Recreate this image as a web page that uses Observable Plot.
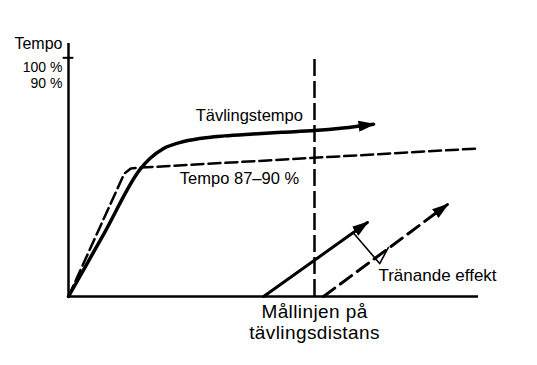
<!DOCTYPE html>
<html>
<head>
<meta charset="utf-8">
<script src="https://cdn.jsdelivr.net/npm/d3@7"></script>
<script src="https://cdn.jsdelivr.net/npm/@observablehq/plot@0.6"></script>
<style>
  html, body { margin: 0; padding: 0; background: #fff; }
  #chart svg { display: block; }
</style>
</head>
<body>
<div id="chart"></div>
<script>
// Schematic: x = distance (finish line at 60), y = tempo (%)
const raceX = [0, 8.8, 17.6, 20.0, 23.2, 27.3, 32, 38, 45, 52, 60, 67, 74.4];
const raceY = [0, 26.8, 53.6, 58.0, 62.0, 64.6, 66.2, 67.3, 68.1, 68.8, 69.5, 70.6, 72.2];

const steadyX = [0, 13.6, 15.2, 17.6, 59.8, 99.8];
const steadyY = [0, 51.5, 53.6, 54.0, 58.1, 62.0];

const trainSolidX = [47.6, 72.9];
const trainSolidY = [0, 31.0];
const trainDashX = [62.2, 92.4];
const trainDashY = [0, 38.5];

const effectX = [69.5, 75.9, 78.0];
const effectY = [26.6, 13.8, 20.5];

const finishX = 60;
const tickValue = 100;
const yTickLabels = ["100 %", "90 %"];
const yTickLabelPos = [96, 89.2];

const zip = (xs, ys) => xs.map((x, i) => ({x, y: ys[i]}));

function filledArrow(color) {
  const ns = "http://www.w3.org/2000/svg";
  const m = document.createElementNS(ns, "marker");
  m.setAttribute("viewBox", "-15 -5.5 17 11");
  m.setAttribute("markerWidth", 17);
  m.setAttribute("markerHeight", 11);
  m.setAttribute("markerUnits", "userSpaceOnUse");
  m.setAttribute("orient", "auto");
  m.setAttribute("refX", 0);
  m.setAttribute("refY", 0);
  const p = document.createElementNS(ns, "path");
  p.setAttribute("d", "M-15,-5.5L2,0L-15,5.5Z");
  p.setAttribute("fill", color);
  p.setAttribute("stroke", "none");
  m.appendChild(p);
  return m;
}

function build(marker) {
  return Plot.plot({
    width: 537,
    height: 365,
    marginLeft: 68,
    marginRight: 59,
    marginTop: 43,
    marginBottom: 69,
    x: {domain: [0, 100], axis: null},
    y: {domain: [0, 106], axis: null},
    style: {background: "#fff", fontFamily: "'Liberation Sans', Arial, sans-serif", color: "#000", overflow: "visible"},
    marks: [
      Plot.ruleX([0], {y1: 0, y2: 106, stroke: "#000", strokeWidth: 2.5}),
      Plot.ruleY([0], {x1: 0, x2: 100, stroke: "#000", strokeWidth: 2.5}),
      Plot.ruleY([tickValue], {x1: -1.3, x2: 1.3, stroke: "#000", strokeWidth: 2}),
      Plot.ruleX([finishX], {y1: 0, y2: 101, stroke: "#000", strokeWidth: 2.5, strokeDasharray: "17,5"}),
      Plot.line(zip(steadyX, steadyY), {x: "x", y: "y", stroke: "#000", strokeWidth: 2.5, strokeDasharray: "12,5", curve: "linear"}),
      Plot.line(zip(raceX, raceY), {x: "x", y: "y", stroke: "#000", strokeWidth: 3.5, curve: "monotone-x", markerEnd: marker}),
      Plot.line(zip(trainSolidX, trainSolidY), {x: "x", y: "y", stroke: "#000", strokeWidth: 3, markerEnd: marker}),
      Plot.line(zip(trainDashX, trainDashY), {x: "x", y: "y", stroke: "#000", strokeWidth: 3, strokeDasharray: "14,7", markerEnd: marker}),
      Plot.line(zip(effectX, effectY), {x: "x", y: "y", stroke: "#000", strokeWidth: 1.6}),
      Plot.text(["Tempo"], {x: 0, y: 106, dx: -6, text: d => d, textAnchor: "end", lineAnchor: "middle", fontSize: 16, fill: "#000"}),
      Plot.text(yTickLabels, {x: 0, y: (d, i) => yTickLabelPos[i], dx: -6, text: d => d, textAnchor: "end", lineAnchor: "middle", fontSize: 14, fill: "#000"}),
      Plot.text(["Tävlingstempo"], {x: 44.1, y: 75.8, text: d => d, lineAnchor: "middle", fontSize: 16.5, fill: "#000"}),
      Plot.text(["Tempo 87–90 %"], {x: 41.7, y: 49.4, text: d => d, lineAnchor: "middle", fontSize: 16.5, fill: "#000"}),
      Plot.text(["Tränande effekt"], {x: 90.0, y: 8.8, text: d => d, lineAnchor: "middle", fontSize: 17, fill: "#000"}),
      Plot.text(["Mållinjen på\ntävlingsdistans"], {x: 60, y: -10.7, text: d => d, lineAnchor: "middle", lineHeight: 1.1, fontSize: 19, fill: "#000"})
    ]
  });
}

let chart;
try {
  chart = build(filledArrow);
} catch (e) {
  chart = build("arrow");
}
d3.select(chart).selectAll("text")
  .filter(function () { return this.textContent.includes("Mållinjen"); })
  .attr("letter-spacing", 0.4);
document.getElementById("chart").appendChild(chart);
</script>
</body>
</html>
